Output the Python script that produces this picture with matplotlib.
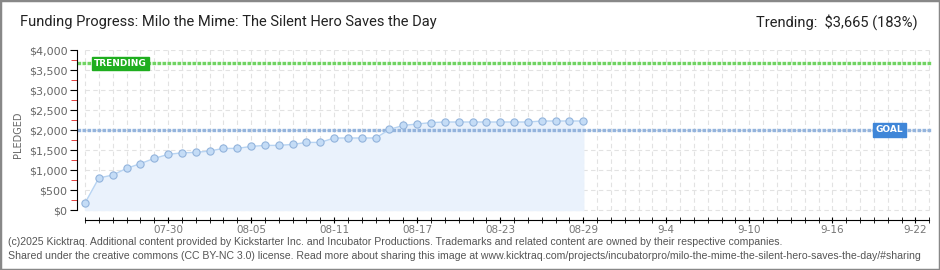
import numpy as np
import matplotlib
matplotlib.use('Agg')
import matplotlib.pyplot as plt
from matplotlib.patches import Rectangle

# pledged totals, one per day starting 07-24
pledged = [175, 800, 875, 1040, 1160, 1290, 1390, 1430, 1440, 1475,
           1540, 1540, 1590, 1615, 1615, 1640, 1690, 1690, 1800, 1800,
           1800, 1800, 2015, 2115, 2150, 2185, 2200, 2200, 2200, 2200,
           2200, 2200, 2200, 2225, 2225, 2225, 2225]
goal = 2000
trending = 3665
n_days = 62  # campaign length shown on axis (07-24 .. 09-23)
xtick_days = [6, 12, 18, 24, 30, 36, 42, 48, 54, 60]
xtick_labels = ['07-30', '08-05', '08-11', '08-17', '08-23', '08-29',
                '9-4', '9-10', '9-16', '9-22']
ytick_vals = [0, 500, 1000, 1500, 2000, 2500, 3000, 3500, 4000]

plt.rcParams['font.family'] = 'DejaVu Sans'

fig = plt.figure(figsize=(9.4, 2.7), dpi=100)
ax = fig.add_axes([77/940, 1 - 220/270, (932 - 77)/940, 170/270])

days = np.arange(len(pledged))
last_day = n_days - 1

ax.set_xlim(-0.58, 61.2)
ax.set_ylim(-250, 4000)

# grid
grid_kw = dict(color='#e2e2e2', lw=0.8, linestyles=(0, (4, 3)), zorder=0)
ax.hlines(ytick_vals, 0, last_day, **grid_kw)
ax.vlines(np.arange(n_days), 0, 4000, **grid_kw)

# series
ax.fill_between(days, 0, pledged, color='#eaf2fc', zorder=1)
ax.plot(days, pledged, color='#b8d4f2', lw=1, zorder=3)
ax.plot(days, pledged, 'o', ms=5.2, mfc='#c4dcf6', mec='#93b4dc', mew=0.8, zorder=4)

# goal / trending lines
ax.axhline(goal, color='#94b4dd', lw=2.4, dashes=(1.1, 0.4), zorder=2)
ax.axhline(trending, color='#70d462', lw=2.4, dashes=(1.1, 0.4), zorder=2)
ax.text(2.57, trending, 'TRENDING', color='white', fontsize=6.5, fontweight='bold',
        ha='center', va='center', zorder=5,
        bbox=dict(boxstyle='square,pad=0.25', fc='#1fae1f', ec='#1fae1f'))
ax.text(58.1, goal, 'GOAL', color='white', fontsize=6.5, fontweight='bold',
        ha='center', va='center', zorder=5,
        bbox=dict(boxstyle='square,pad=0.3', fc='#3f86d8', ec='#3f86d8'))

# spines
for s in ['top', 'right']:
    ax.spines[s].set_visible(False)
ax.spines['left'].set_bounds(0, 4000)
ax.spines['bottom'].set_bounds(0, last_day)

ax.set_yticks(ytick_vals)
ax.set_yticklabels(['${:,}'.format(v) for v in ytick_vals])
ax.set_yticks(np.arange(250, 4000, 500), minor=True)
ax.tick_params(axis='y', which='major', length=5, color='black', labelsize=8,
               labelcolor='#666666', pad=2)
ax.tick_params(axis='y', which='minor', length=4, color='#e02020')

ax.set_xticks(np.arange(n_days), minor=True)
ax.set_xticks(xtick_days)
ax.set_xticklabels(xtick_labels)
ax.tick_params(axis='x', which='both', direction='inout', length=5,
               color='black', labelsize=7.5, labelcolor='#777777', pad=1)

ax.set_ylabel('PLEDGED', fontsize=7, color='#666666', labelpad=4)

# header
fig.text(20/940, 1 - 22/270, 'Funding Progress: Milo the Mime: The Silent Hero Saves the Day',
         fontsize=10.5, family='Roboto', color='#222222', va='center', ha='left')
fig.text(918/940, 1 - 22/270, 'Trending:  $3,665 (183%)',
         fontsize=10.5, family='Roboto', color='#222222', va='center', ha='right')

# footer
fig.text(8/940, 1 - 242/270,
         '(c)2025 Kicktraq. Additional content provided by Kickstarter Inc. and Incubator Productions. '
         'Trademarks and related content are owned by their respective companies.',
         fontsize=7.6, family='Liberation Sans', color='#555555', va='center', ha='left')
fig.text(8/940, 1 - 256/270,
         'Shared under the creative commons (CC BY-NC 3.0) license. Read more about sharing this image at '
         'www.kicktraq.com/projects/incubatorpro/milo-the-mime-the-silent-hero-saves-the-day/#sharing',
         fontsize=7.6, family='Liberation Sans', color='#555555', va='center', ha='left')

# outer border
fig.patches.append(Rectangle((0, 0), 1, 1, transform=fig.transFigure,
                             fill=False, ec='#888888', lw=2.5))

fig.savefig('out.png', dpi=100)
